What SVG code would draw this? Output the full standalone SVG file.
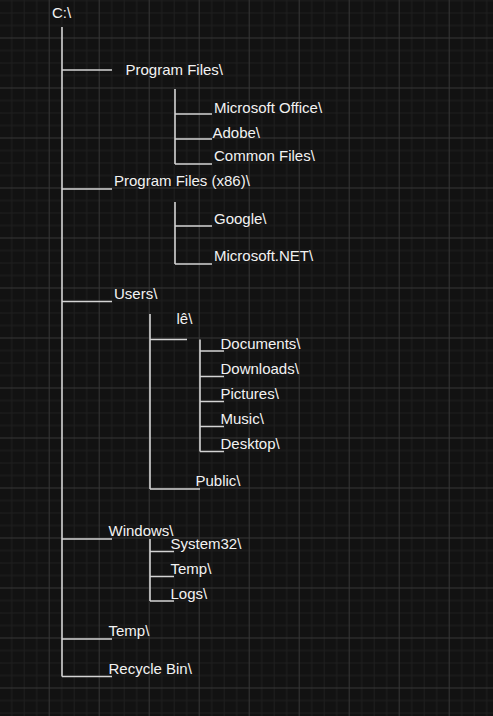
<svg xmlns="http://www.w3.org/2000/svg" width="493" height="716" viewBox="0 0 493 716">
<defs>
<pattern id="grid" patternUnits="userSpaceOnUse" x="-1.3" y="-12.5" width="50" height="50">
<rect x="0" y="0" width="50" height="50" fill="#121212"/>
<g fill="#1f1f1f">
<rect x="12.5" y="0" width="1" height="50"/>
<rect x="25" y="0" width="1" height="50"/>
<rect x="37.5" y="0" width="1" height="50"/>
<rect x="0" y="12.5" width="50" height="1"/>
<rect x="0" y="25" width="50" height="1"/>
<rect x="0" y="37.5" width="50" height="1"/>
</g>
<g fill="#363636">
<rect x="0" y="0" width="1" height="50"/>
<rect x="0" y="0" width="50" height="1"/>
</g>
</pattern>
<style>
.t{font-family:"Liberation Sans",Arial,sans-serif;font-size:15px;fill:#f2f2f2}
.l{stroke:#d4d4d4;stroke-width:1.6;fill:none}
</style>
</defs>
<rect width="493" height="716" fill="url(#grid)"/>
<g id="connectors" class="l">
<path d="M62 27V676.5"/>
<path d="M62 70H112M62 189H112M62 301.5H112M62 539H112M62 639H112M62 676.5H112"/>
<path d="M175 89V164M175 114H212M175 139H212M175 164H212"/>
<path d="M175 202V264M175 226H212M175 264H212"/>
<path d="M150 314V489M150 339.5H187M150 489H200"/>
<path d="M200 339.5V451.5M200 351H224M200 376.5H224M200 401.5H224M200 426.5H224M200 451.5H224"/>
<path d="M150 539V601M150 551.5H174M150 576.5H174M150 601H174"/>
</g>
<g id="n-c"><text class="t" x="52" y="18">C:\</text></g>
<g id="n-pf"><text class="t" x="125.5" y="75">Program Files\</text></g>
<g id="n-msoffice"><text class="t" x="214" y="113">Microsoft Office\</text></g>
<g id="n-adobe"><text class="t" x="212.5" y="138">Adobe\</text></g>
<g id="n-common"><text class="t" x="214" y="161">Common Files\</text></g>
<g id="n-pf86"><text class="t" x="114" y="186">Program Files (x86)\</text></g>
<g id="n-google"><text class="t" x="214" y="224">Google\</text></g>
<g id="n-msnet"><text class="t" x="214" y="261">Microsoft.NET\</text></g>
<g id="n-users"><text class="t" x="114" y="298.5">Users\</text></g>
<g id="n-le"><text class="t" x="176.5" y="323.5">lê\</text></g>
<g id="n-docs"><text class="t" x="220.5" y="348.5">Documents\</text></g>
<g id="n-downloads"><text class="t" x="220.5" y="373.5">Downloads\</text></g>
<g id="n-pictures"><text class="t" x="220.5" y="398.5">Pictures\</text></g>
<g id="n-music"><text class="t" x="220.5" y="423.5">Music\</text></g>
<g id="n-desktop"><text class="t" x="220.5" y="448.5">Desktop\</text></g>
<g id="n-public"><text class="t" x="195.5" y="486">Public\</text></g>
<g id="n-windows"><text class="t" x="108.5" y="535.5">Windows\</text></g>
<g id="n-system32"><text class="t" x="170.5" y="548.5">System32\</text></g>
<g id="n-wtemp"><text class="t" x="170.5" y="573.5">Temp\</text></g>
<g id="n-logs"><text class="t" x="170.5" y="598.5">Logs\</text></g>
<g id="n-temp"><text class="t" x="108.5" y="636">Temp\</text></g>
<g id="n-recycle"><text class="t" x="108.5" y="673.5">Recycle Bin\</text></g>
</svg>
